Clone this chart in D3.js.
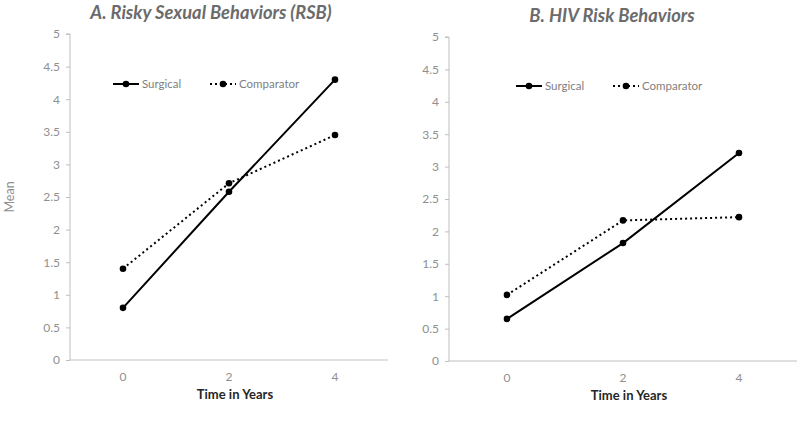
<!DOCTYPE html>
<html><head><meta charset="utf-8">
<script src="https://cdn.jsdelivr.net/npm/d3@7"></script>
<style>body{margin:0;background:#fff}svg{display:block}</style>
</head><body><svg id="c" width="800" height="421"></svg>
<script>
const years = ["0", "2", "4"];
const yTicks = [0, 0.5, 1, 1.5, 2, 2.5, 3, 3.5, 4, 4.5, 5];
const seriesNames = ["Surgical", "Comparator"];
const rsbSurgical = [0.80, 2.58, 4.30];
const rsbComparator = [1.40, 2.71, 3.45];
const hivSurgical = [0.65, 1.82, 3.21];
const hivComparator = [1.02, 2.17, 2.22];
const titles = ["A. Risky Sexual Behaviors (RSB)", "B. HIV Risk Behaviors"];
const xTitle = "Time in Years";
const yTitle = "Mean";

const svg = d3.select("#c");
const font = "Lato, 'Open Sans', sans-serif";
const panels = [
  {title: titles[0], series: [rsbSurgical, rsbComparator], x0: 70, x1: 388, yTop: 34, yBot: 360, titleX: 211, titleY: 18.5, legX: [113, 210], legY: 84, showY: true},
  {title: titles[1], series: [hivSurgical, hivComparator], x0: 449, x1: 797, yTop: 37, yBot: 361, titleX: 612, titleY: 21.5, legX: [516, 613], legY: 86, showY: false}
];
const dashes = [null, "2,3"];

panels.forEach(p => {
  const g = svg.append("g");
  const x = d3.scaleBand().domain(years).range([p.x0, p.x1]);
  const y = d3.scaleLinear().domain([0, 5]).range([p.yBot, p.yTop]);
  const cx = d => x(d) + x.bandwidth() / 2;

  // y axis
  const ya = g.append("g").attr("transform", `translate(${p.x0},0)`)
    .call(d3.axisLeft(y).tickValues(yTicks).tickSize(4).tickPadding(6).tickFormat(d3.format("")));
  ya.select(".domain").attr("stroke", "#bfbfbf").attr("d", `M-4,${p.yTop}H0V${p.yBot}`);
  ya.selectAll(".tick line").attr("stroke", "#bfbfbf");
  ya.selectAll(".tick text").attr("fill", "#8f8f8f").style("font-family", font).style("font-size", "12px");

  // x axis
  const xa = g.append("g").attr("transform", `translate(0,${p.yBot})`)
    .call(d3.axisBottom(x).tickSize(0).tickPadding(12));
  xa.select(".domain").attr("stroke", "#bfbfbf").attr("d", `M${p.x0},0H${p.x1}`);
  xa.selectAll(".tick text").attr("fill", "#8f8f8f").style("font-family", font).style("font-size", "12px");

  g.append("text").attr("x", (p.x0 + p.x1) / 2 + 6).attr("y", p.yBot + 39)
    .attr("text-anchor", "middle").attr("fill", "#262626")
    .style("font-family", font).style("font-size", "13px").style("font-weight", "bold").text(xTitle);

  g.append("text").attr("x", p.titleX).attr("y", p.titleY)
    .attr("text-anchor", "middle").attr("fill", "#6b6b6b")
    .style("font-family", font).style("font-size", "18.3px").style("font-weight", "bold").style("font-style", "italic").text(p.title);

  if (p.showY) {
    g.append("text").attr("transform", `translate(14,${(p.yTop + p.yBot) / 2}) rotate(-90)`)
      .attr("text-anchor", "middle").attr("fill", "#8f8f8f")
      .style("font-family", font).style("font-size", "12.5px").text(yTitle);
  }

  p.series.forEach((vals, i) => {
    const line = d3.line().x((d, j) => cx(years[j])).y(d => y(d));
    g.append("path").datum(vals).attr("d", line).attr("fill", "none").attr("stroke", "#000")
      .attr("stroke-width", 2).attr("stroke-dasharray", dashes[i]);
    g.selectAll(null).data(vals).enter().append("circle")
      .attr("cx", (d, j) => cx(years[j])).attr("cy", d => y(d)).attr("r", 3.3).attr("fill", "#000");
    // legend
    const lx = p.legX[i];
    g.append("line").attr("x1", lx).attr("x2", lx + 26).attr("y1", p.legY).attr("y2", p.legY)
      .attr("stroke", "#000").attr("stroke-width", 2).attr("stroke-dasharray", dashes[i]);
    g.append("circle").attr("cx", lx + 13).attr("cy", p.legY).attr("r", 3.3).attr("fill", "#000");
    g.append("text").attr("x", lx + 29).attr("y", p.legY + 4).attr("fill", "#7f7f7f")
      .style("font-family", font).style("font-size", "11.5px").text(seriesNames[i]);
  });
});
</script></body></html>
